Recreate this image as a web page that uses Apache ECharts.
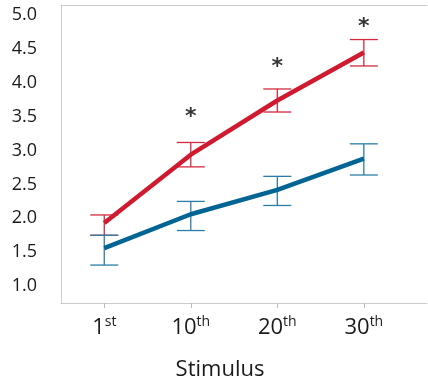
<!DOCTYPE html>
<html>
<head>
<meta charset="utf-8">
<script src="https://cdn.jsdelivr.net/npm/echarts@6/dist/echarts.min.js"></script>
<style>
  html, body { margin: 0; padding: 0; background: #fff; }
  #chart { width: 428px; height: 384px; }
</style>
</head>
<body>
<div id="chart"></div>
<script>
// stimulus categories (number + ordinal suffix)
var stimNum = ['1', '10', '20', '30'];
var stimSuffix = ['st', 'th', 'th', 'th'];

// red group: means and error bar ends
var redMean = [1.93, 2.94, 3.74, 4.45];
var redLow = [1.75, 2.76, 3.57, 4.25];
var redHigh = [2.05, 3.12, 3.91, 4.64];

// blue group
var blueMean = [1.56, 2.06, 2.42, 2.88];
var blueLow = [1.31, 1.82, 2.19, 2.64];
var blueHigh = [1.75, 2.25, 2.62, 3.10];

// significance markers (category index, height)
var starIdx = [1, 2, 3];
var starY = [3.56, 4.30, 4.90];

var yTicks = [1.0, 1.5, 2.0, 2.5, 3.0, 3.5, 4.0, 4.5, 5.0];

var FONT = '"Open Sans", "Noto Sans", sans-serif';
var RED = '#d01a30';
var BLUE = '#006494';

function pairs(arr) {
    return arr.map(function (v, i) { return [i, v]; });
}

function errData(low, high) {
    return low.map(function (v, i) { return [i, v, high[i]]; });
}

function errorBars(color) {
    return function (params, api) {
        var lo = api.coord([api.value(0), api.value(1)]);
        var hi = api.coord([api.value(0), api.value(2)]);
        var half = 14;
        var style = { stroke: color, lineWidth: 1.3 };
        return {
            type: 'group',
            children: [
                { type: 'line', shape: { x1: lo[0], y1: lo[1], x2: hi[0], y2: hi[1] }, style: style },
                { type: 'line', shape: { x1: hi[0] - half, y1: hi[1], x2: hi[0] + half, y2: hi[1] }, style: style },
                { type: 'line', shape: { x1: lo[0] - half, y1: lo[1], x2: lo[0] + half, y2: lo[1] }, style: style }
            ]
        };
    };
}

var chart = echarts.init(document.getElementById('chart'));

var frameLine = { show: true, onZero: false, lineStyle: { color: '#cccccc', width: 1 } };

var option = {
    animation: false,
    backgroundColor: '#fff',
    grid: { left: 61, top: 5, right: 1, bottom: 81 },
    xAxis: [{
        type: 'value',
        min: -0.5,
        max: 3.73,
        axisLine: frameLine,
        splitLine: { show: false },
        axisTick: { show: true, customValues: [0, 1, 2, 3], length: 5, lineStyle: { color: '#bbbbbb' } },
        axisLabel: {
            customValues: [0, 1, 2, 3],
            margin: 12,
            formatter: function (v) {
                var i = Math.round(v);
                return '{a|' + stimNum[i] + '}{b|' + stimSuffix[i] + '}';
            },
            rich: {
                a: { fontFamily: FONT, fontSize: 22, color: '#1a1a1a', lineHeight: 26 },
                b: { fontFamily: FONT, fontSize: 14, color: '#1a1a1a', lineHeight: 14, verticalAlign: 'top', padding: [0, 0, 4, 0] }
            }
        }
    }, {
        // top edge of the frame
        type: 'value',
        position: 'top',
        min: -0.5,
        max: 3.73,
        axisLine: frameLine,
        axisTick: { show: false },
        axisLabel: { show: false },
        splitLine: { show: false }
    }],
    yAxis: {
        type: 'value',
        min: 0.75,
        max: 5.15,
        axisLine: frameLine,
        axisTick: { show: false },
        splitLine: { show: false },
        axisLabel: {
            customValues: yTicks,
            margin: 24,
            fontFamily: FONT,
            fontSize: 18,
            color: '#1a1a1a',
            formatter: function (v) { return v.toFixed(1); }
        }
    },
    graphic: [{
        type: 'text',
        x: 220,
        y: 370,
        style: {
            text: 'Stimulus',
            font: '22px ' + FONT,
            fill: '#1a1a1a',
            textAlign: 'center',
            textVerticalAlign: 'middle'
        }
    }],
    series: [
        {
            type: 'custom',
            renderItem: errorBars('#d42a3e'),
            data: errData(redLow, redHigh),
            z: 2
        },
        {
            type: 'custom',
            renderItem: errorBars('#2a7ea6'),
            data: errData(blueLow, blueHigh),
            z: 2
        },
        {
            type: 'line',
            data: pairs(redMean),
            symbol: 'none',
            lineStyle: { color: RED, width: 4.5 },
            z: 3
        },
        {
            type: 'line',
            data: pairs(blueMean),
            symbol: 'none',
            lineStyle: { color: BLUE, width: 4.5 },
            z: 3
        },
        {
            type: 'scatter',
            data: starIdx.map(function (x, i) { return [x, starY[i]]; }),
            symbolSize: 0,
            label: {
                show: true,
                position: 'inside',
                formatter: '*',
                fontFamily: '"DejaVu Sans", sans-serif',
                fontWeight: 'bold',
                fontSize: 22,
                color: '#000',
                offset: [0, 5]
            },
            z: 4
        }
    ]
};

chart.setOption(option);
</script>
</body>
</html>
